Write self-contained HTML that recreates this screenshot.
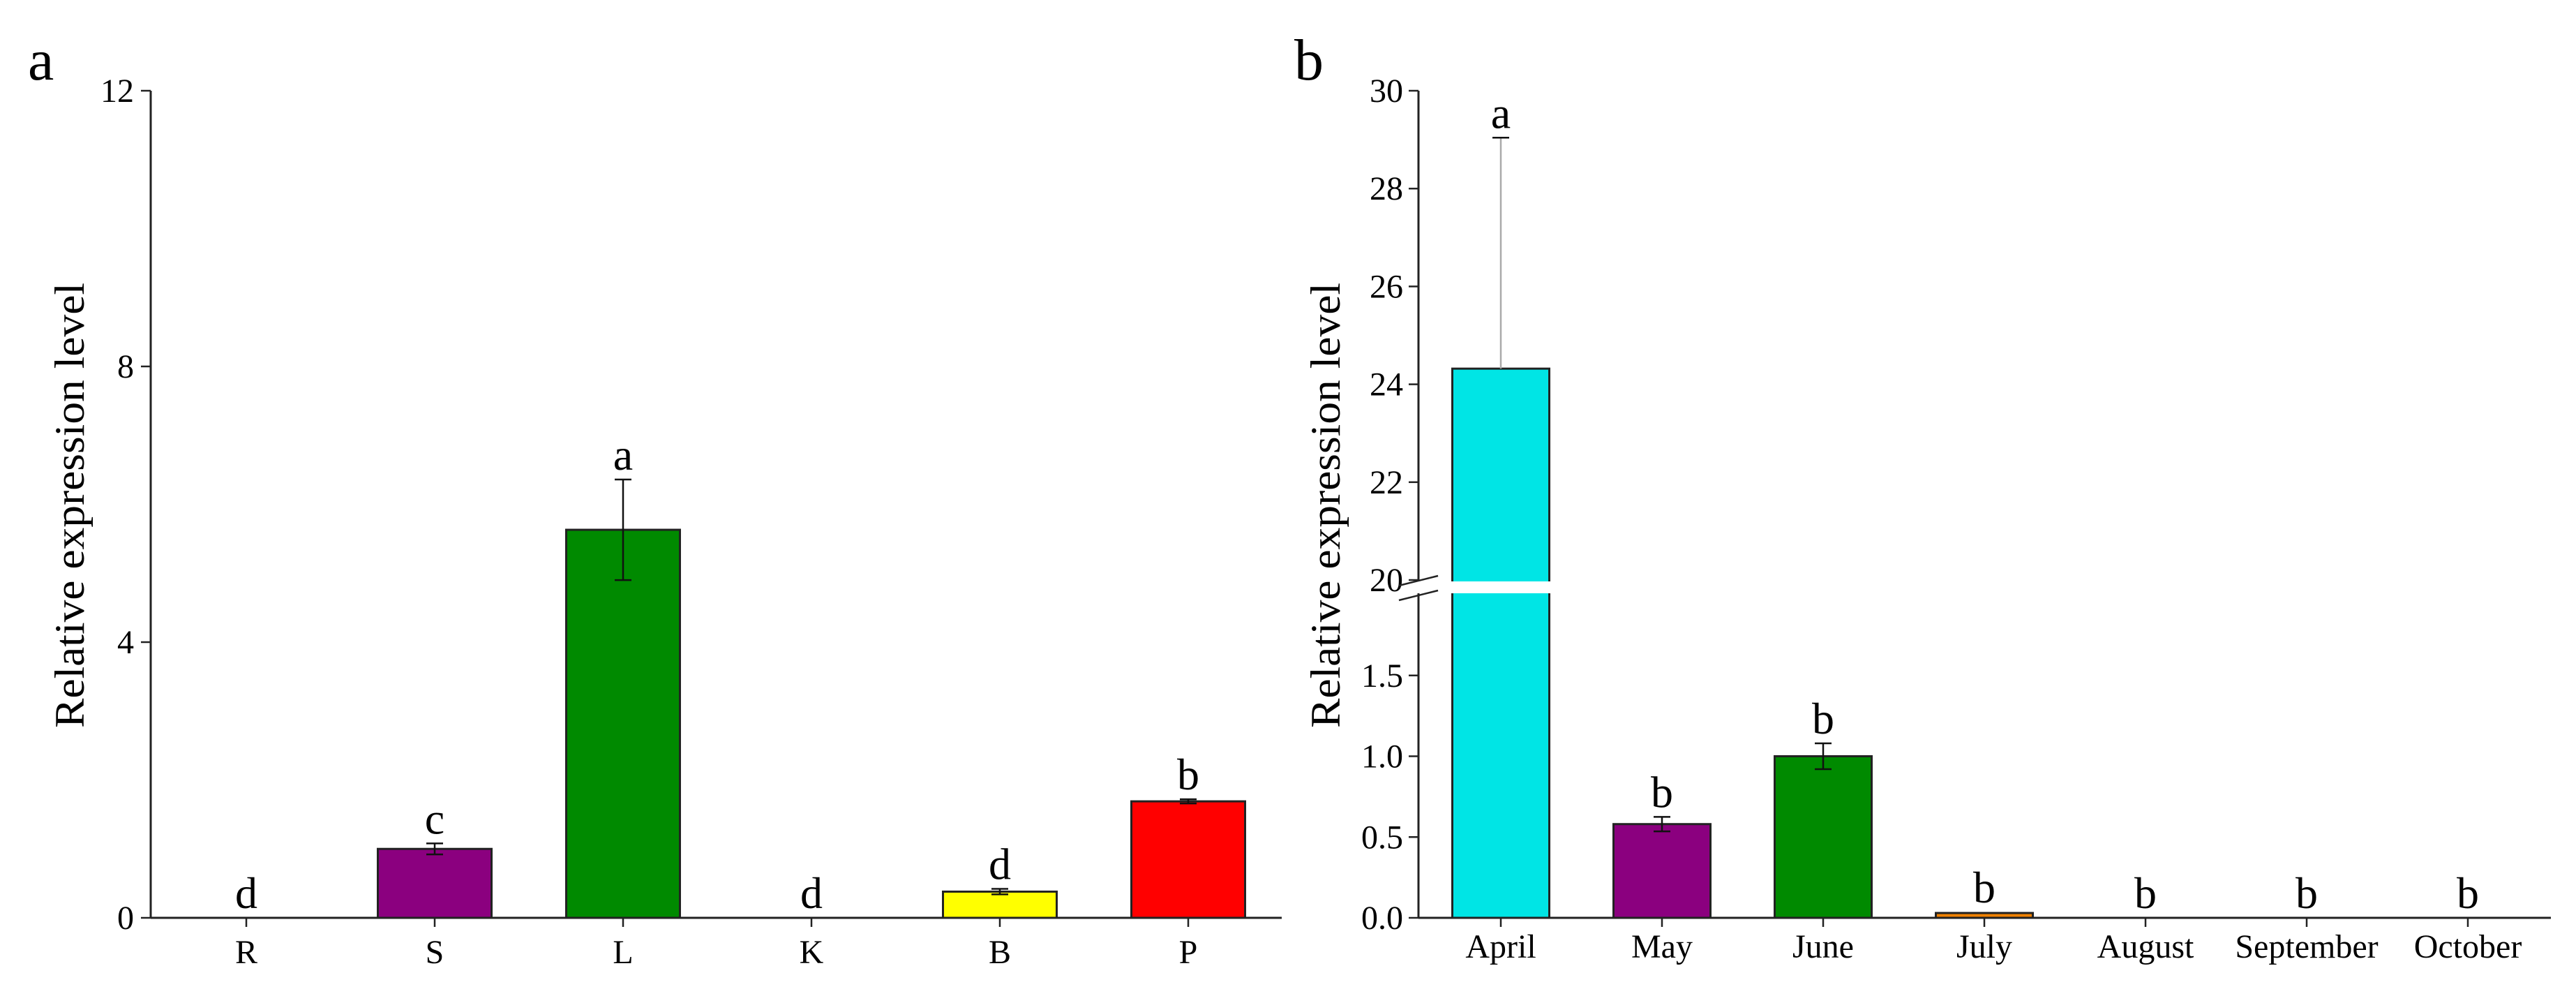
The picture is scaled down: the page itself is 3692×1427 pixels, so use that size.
<!DOCTYPE html>
<html><head><meta charset="utf-8"><style>
html,body{margin:0;padding:0;background:#fff}
svg{display:block;font-family:"Liberation Serif","DejaVu Serif",serif}
</style></head><body>
<svg id="chart" width="3692" height="1427" viewBox="0 0 3692 1427" xmlns="http://www.w3.org/2000/svg">
<rect width="3692" height="1427" fill="#fff"/>
<g id="pa"></g>
<g id="pb"></g>
</svg>
<script>
const catsA = ["R","S","L","K","B","P"];
const valsA = [0.0, 1.0, 5.63, 0.0, 0.38, 1.69];
const errsA = [0, 0.08, 0.73, 0, 0.04, 0.03];
const lettersA = ["d","c","a","d","d","b"];
const colorsA = ["#888","#8b007f","#008a00","#888","#ffff00","#ff0000"];
const ticksA = [0,4,8,12];

const catsB = ["April","May","June","July","August","September","October"];
const valsB = [24.32, 0.58, 1.0, 0.03, 0, 0, 0];
const errsB = [4.72, 0.045, 0.08, 0.005, 0, 0, 0];
const lettersB = ["a","b","b","b","b","b","b"];
const colorsB = ["#00e5e5","#8b007f","#008a00","#f08000","#888","#888","#888"];
const ticksBLow = [0.0,0.5,1.0,1.5];
const ticksBHigh = [20,22,24,26,28,30];

const NS="http://www.w3.org/2000/svg";
function mk(parent,tag,attrs,text){const e=document.createElementNS(NS,tag);for(const k in attrs)e.setAttribute(k,attrs[k]);if(text!==undefined)e.textContent=text;parent.appendChild(e);return e;}

// Panel A
const pa=document.getElementById('pa');
const axA={x0:216,y0:1315,yTop:130,xEnd:1837,first:353,step:270,bw:163};
const yA=v=>axA.y0-(v/12)*(axA.y0-axA.yTop);
const xA=i=>axA.first+i*axA.step;
let t=mk(pa,'text',{x:40,y:114,'font-size':84},'a');

catsA.forEach((c,i)=>{
  const v=valsA[i];
  if(v>0){
    const r=mk(pa,'rect',{x:xA(i)-axA.bw/2,y:yA(v),width:axA.bw,height:axA.y0-yA(v),fill:colorsA[i],stroke:'#222','stroke-width':3});
    
  }
  if(errsA[i]>0){
    const g=mk(pa,'g',{stroke:'#111','stroke-width':2.5});
    
    mk(g,'line',{x1:xA(i),x2:xA(i),y1:yA(v+errsA[i]),y2:yA(v-errsA[i])});
    mk(g,'line',{x1:xA(i)-12,x2:xA(i)+12,y1:yA(v+errsA[i]),y2:yA(v+errsA[i])});
    mk(g,'line',{x1:xA(i)-12,x2:xA(i)+12,y1:yA(v-errsA[i]),y2:yA(v-errsA[i])});
  }
  const top=yA(v+errsA[i]);
  const l=mk(pa,'text',{x:xA(i),y:top-14,'font-size':64,'text-anchor':'middle'},lettersA[i]);
  
  const tk=mk(pa,'line',{x1:xA(i),x2:xA(i),y1:axA.y0,y2:axA.y0+13,stroke:'#222','stroke-width':2.5});
  
  const tl=mk(pa,'text',{x:xA(i),y:1380,'font-size':48,'text-anchor':'middle'},c);
  
});
ticksA.forEach(v=>{
  const tk=mk(pa,'line',{x1:axA.x0-14,x2:axA.x0,y1:yA(v),y2:yA(v),stroke:'#222','stroke-width':2.5});
  
  const tl=mk(pa,'text',{x:axA.x0-24,y:yA(v)+16,'font-size':48,'text-anchor':'end'},String(v));
  
});
let ax=mk(pa,'line',{x1:axA.x0,x2:axA.x0,y1:axA.yTop,y2:axA.y0,stroke:'#222','stroke-width':3});

ax=mk(pa,'line',{x1:axA.x0,x2:axA.xEnd,y1:axA.y0,y2:axA.y0,stroke:'#222','stroke-width':3});

t=mk(pa,'text',{x:0,y:0,'font-size':60,'text-anchor':'middle',transform:'translate(120,724) rotate(-90)',textLength:638,lengthAdjust:'spacingAndGlyphs'},'Relative expression level');


// Panel B
const pb=document.getElementById('pb');
const axB={x0:2033,y0:1315,lowTop:852,lowMax:2,hiBot:831,hiTop:130,hiMin:20,hiMax:30,xEnd:3656,first:2151,step:231,bw:139};
const yB=v=>v<=axB.lowMax? axB.y0-(v/axB.lowMax)*(axB.y0-axB.lowTop) : axB.hiBot-((v-axB.hiMin)/(axB.hiMax-axB.hiMin))*(axB.hiBot-axB.hiTop);
const xB=i=>axB.first+i*axB.step;
t=mk(pb,'text',{x:1855,y:114,'font-size':84},'b');

catsB.forEach((c,i)=>{
  const v=valsB[i];
  if(v>0){
    const r=mk(pb,'rect',{x:xB(i)-axB.bw/2,y:yB(v),width:axB.bw,height:axB.y0-yB(v),fill:colorsB[i],stroke:'#222','stroke-width':3});
    
  }
  if(errsB[i]>0.01){
    const col=i===0?'#aaa':'#111';
    const g=mk(pb,'g',{stroke:col,'stroke-width':2.5});
    
    const lo=i===0?v:v-errsB[i];
    mk(g,'line',{x1:xB(i),x2:xB(i),y1:yB(v+errsB[i]),y2:yB(lo)});
    mk(g,'line',{x1:xB(i)-12,x2:xB(i)+12,y1:yB(v+errsB[i]),y2:yB(v+errsB[i]),stroke:'#111'});
    if(i!==0)mk(g,'line',{x1:xB(i)-12,x2:xB(i)+12,y1:yB(lo),y2:yB(lo)});
  }
  const top=yB(v+errsB[i]);
  const l=mk(pb,'text',{x:xB(i),y:top-14,'font-size':64,'text-anchor':'middle'},lettersB[i]);
  
  const tk=mk(pb,'line',{x1:xB(i),x2:xB(i),y1:axB.y0,y2:axB.y0+13,stroke:'#222','stroke-width':2.5});
  
  const tl=mk(pb,'text',{x:xB(i),y:1372,'font-size':48,'text-anchor':'middle'},c);
  
});
ticksBLow.concat(ticksBHigh).forEach(v=>{
  const tk=mk(pb,'line',{x1:axB.x0-14,x2:axB.x0,y1:yB(v),y2:yB(v),stroke:'#222','stroke-width':2.5});
  
  const lab=v<=axB.lowMax? v.toFixed(1):String(v);
  const tl=mk(pb,'text',{x:axB.x0-22,y:yB(v)+16,'font-size':48,'text-anchor':'end'},lab);
  
});
ax=mk(pb,'line',{x1:axB.x0,x2:axB.x0,y1:axB.hiTop,y2:axB.y0,stroke:'#222','stroke-width':3});

ax=mk(pb,'line',{x1:axB.x0,x2:axB.xEnd,y1:axB.y0,y2:axB.y0,stroke:'#222','stroke-width':3});

// axis break
const br=mk(pb,'rect',{x:axB.x0-6,y:axB.hiBot+2,width:xB(0)+axB.bw/2-axB.x0+10,height:axB.lowTop-axB.hiBot-4,fill:'#fff'});

const bs=mk(pb,'g',{stroke:'#222','stroke-width':2.5});

mk(bs,'line',{x1:axB.x0-28,y1:axB.hiBot+8,x2:axB.x0+28,y2:axB.hiBot-6});
mk(bs,'line',{x1:axB.x0-28,y1:axB.lowTop+8,x2:axB.x0+28,y2:axB.lowTop-6});
t=mk(pb,'text',{x:0,y:0,'font-size':60,'text-anchor':'middle',transform:'translate(1920,724) rotate(-90)',textLength:638,lengthAdjust:'spacingAndGlyphs'},'Relative expression level');

</script>
</body></html>
